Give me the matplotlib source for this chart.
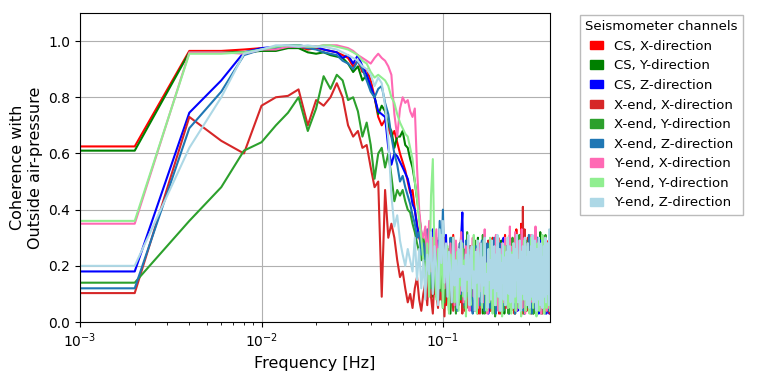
"""
Coherence between seismometer channels and outside air pressure
"""

import numpy as np
import matplotlib
matplotlib.use('Agg')
import matplotlib.pyplot as plt
from matplotlib.patches import Patch

# frequency bins (0.002 Hz spacing, first bin is DC)
n_bins = 196
df = 0.002

channel_names = ['CS, X-direction', 'CS, Y-direction', 'CS, Z-direction',
                 'X-end, X-direction', 'X-end, Y-direction', 'X-end, Z-direction',
                 'Y-end, X-direction', 'Y-end, Y-direction', 'Y-end, Z-direction']
channel_colors = ['red', 'green', 'blue',
                  'tab:red', 'tab:green', 'tab:blue',
                  'hotpink', 'lightgreen', 'lightblue']

# coherence values in percent
cs_x = [62.5, 62.5, 96.5, 96.5, 97, 97.5, 97.5, 98, 98, 97,
        97.5, 97, 96.5, 96, 95, 94, 91, 93, 89, 90,
        86, 80, 73, 70, 72, 69, 66, 68, 64, 60,
        57, 54, 50, 46, 47, 40, 35, 30, 28, 22,
        25, 18, 30, 14, 22, 10, 28, 16, 8, 24,
        12, 30, 6, 19, 26, 9, 15, 31, 11, 5,
        21, 13, 27, 7, 18, 24, 4, 16, 29, 10,
        14, 22, 6, 19, 12, 27, 8, 17, 3, 23,
        11, 26, 15, 5, 20, 9, 24, 13, 28, 7,
        18, 4, 22, 12, 30, 10, 16, 6, 25, 14,
        9, 21, 3, 17, 27, 11, 19, 5, 24, 13,
        31, 8, 15, 22, 6, 18, 10, 26, 4, 20,
        12, 29, 7, 16, 23, 9, 14, 33, 5, 19,
        11, 25, 15, 6, 21, 35, 10, 18, 3, 24,
        14, 8, 27, 12, 20, 5, 17, 30, 9, 15,
        22, 6, 13, 26, 10, 19, 4, 23, 11, 16,
        28, 7, 18, 12, 24, 3, 15, 21, 9, 27,
        13, 6, 20, 11, 25, 8, 17, 14, 4, 22,
        10, 19, 26, 7, 15, 12, 29, 5, 18, 9,
        23, 11, 16, 6, 20, 13]
cs_y = [61, 61, 96, 96, 96, 96.5, 96.5, 97.5, 97.5, 96,
        95.5, 96, 95, 94.5, 94, 92, 89, 91, 86, 88,
        83, 80, 74, 77, 75, 70, 68, 62, 66, 66,
        68, 63, 62, 58, 55, 50, 44, 38, 32, 26,
        20, 28, 12, 24, 9, 19, 30, 7, 22, 15,
        5, 18, 26, 10, 21, 3, 16, 24, 8, 28,
        13, 6, 20, 31, 9, 17, 25, 4, 19, 11,
        27, 7, 15, 22, 12, 5, 24, 16, 30, 8,
        18, 10, 25, 3, 21, 14, 7, 26, 12, 19,
        6, 23, 15, 9, 28, 4, 17, 11, 22, 8,
        26, 13, 5, 20, 10, 29, 7, 16, 24, 3,
        18, 12, 27, 6, 21, 15, 9, 30, 11, 4,
        23, 17, 8, 25, 13, 3, 20, 10, 28, 14,
        6, 19, 24, 9, 16, 31, 5, 22, 12, 18,
        27, 7, 14, 21, 4, 18, 10, 25, 15, 8,
        20, 29, 6, 13, 24, 11, 17, 3, 22, 9,
        15, 26, 8, 19, 12, 30, 5, 21, 14, 7,
        24, 10, 32, 6, 18, 13, 27, 9, 16, 4,
        21, 12, 8, 25, 15, 5, 19, 28, 10, 17,
        7, 24, 13, 20, 6, 18]
cs_z = [18, 18, 74.5, 86, 96, 97.5, 98, 98.5, 98.5, 98,
        98, 97, 96.5, 96, 94, 95, 92, 95, 91, 88,
        84, 80, 75, 74, 73, 62, 56, 60, 59, 57,
        55, 53, 51, 47, 42, 40, 34, 31, 28, 26,
        24, 30, 20, 27, 33, 22, 18, 29, 21, 12,
        26, 16, 31, 10, 24, 14, 28, 8, 20, 13,
        25, 9, 18, 30, 39, 12, 22, 6, 16, 27,
        10, 19, 4, 23, 14, 8, 21, 12, 26, 5,
        17, 28, 9, 13, 22, 6, 25, 11, 18, 3,
        20, 14, 27, 8, 16, 24, 5, 19, 12, 29,
        7, 15, 22, 10, 26, 4, 18, 13, 30, 9,
        21, 6, 16, 25, 11, 19, 3, 23, 14, 8,
        28, 12, 20, 5, 17, 26, 9, 15, 22, 4,
        18, 11, 27, 7, 24, 14, 6, 20, 10, 29,
        13, 3, 19, 25, 8, 16, 22, 5, 27, 12,
        9, 21, 15, 4, 18, 28, 11, 24, 7, 17,
        26, 10, 14, 5, 22, 19, 8, 25, 13, 3,
        20, 16, 29, 9, 12, 24, 6, 18, 11, 27,
        4, 15, 21, 8, 26, 13, 3, 19, 10, 23,
        14, 5, 18, 3, 22, 9]
xend_x = [10.3, 10.3, 73, 64.5, 60, 77, 80, 80.5, 82.8, 70,
          79, 77, 80, 85, 80, 70, 66, 68, 62, 63,
          55, 48, 50, 9, 47, 30, 35, 30, 22, 16,
          18, 12, 7, 10, 5, 12, 16, 8, 4, 10,
          14, 6, 20, 9, 3, 17, 11, 5, 22, 8,
          15, 2, 19, 10, 25, 7, 13, 4, 18, 11,
          6, 21, 9, 16, 3, 24, 12, 7, 19, 5,
          14, 27, 8, 11, 20, 4, 16, 9, 23, 13,
          3, 18, 10, 26, 6, 15, 21, 8, 12, 29,
          7, 17, 4, 22, 11, 14, 5, 25, 9, 19,
          12, 30, 6, 16, 3, 20, 10, 24, 8, 15,
          27, 5, 18, 11, 22, 4, 14, 31, 9, 17,
          6, 21, 13, 26, 3, 19, 10, 28, 7, 16,
          23, 12, 5, 20, 9, 30, 15, 6, 41, 11,
          18, 33, 8, 14, 24, 4, 20, 12, 27, 6,
          16, 9, 22, 3, 18, 28, 11, 15, 5, 24,
          13, 7, 20, 30, 10, 17, 4, 23, 14, 8,
          26, 12, 19, 6, 21, 9, 15, 3, 28, 11,
          17, 24, 5, 13, 20, 8, 27, 10, 4, 18,
          12, 22, 7, 16, 3, 14]
xend_y = [14, 14, 36, 48, 61, 64, 70, 74.5, 80, 68,
          76, 87.5, 83, 88, 86, 79, 80, 75, 66, 71,
          63, 51, 60, 62, 55, 60, 52, 43, 47, 45,
          47, 43, 40, 39, 35, 32, 28, 25, 22, 30,
          26, 18, 30, 12, 24, 16, 9, 22, 28, 11,
          19, 7, 25, 14, 4, 21, 30, 10, 17, 3,
          23, 12, 28, 8, 18, 26, 5, 15, 32, 9,
          20, 13, 6, 24, 17, 29, 10, 4, 22, 14,
          27, 8, 16, 31, 11, 3, 19, 25, 7, 21,
          13, 28, 5, 18, 10, 24, 15, 2, 20, 30,
          8, 17, 23, 11, 6, 26, 14, 20, 4, 27,
          12, 19, 9, 25, 16, 3, 29, 10, 21, 7,
          18, 30, 6, 14, 22, 11, 5, 27, 15, 9,
          24, 13, 31, 7, 19, 4, 16, 26, 10, 20,
          3, 22, 12, 17, 29, 8, 24, 14, 5, 18,
          27, 10, 15, 21, 6, 30, 12, 19, 3, 23,
          11, 25, 16, 8, 20, 14, 28, 4, 18, 22,
          9, 15, 26, 12, 3, 21, 17, 29, 7, 13,
          24, 10, 19, 6, 31, 14, 8, 22, 16, 5,
          28, 11, 20, 9, 25, 15]
xend_z = [12, 12, 69, 82, 95, 97, 97.5, 98, 98, 97.5,
          97, 96, 95.5, 95, 93, 92, 90, 93, 90, 86,
          82, 80, 83, 84, 78, 74, 66, 60, 56, 50,
          52, 48, 45, 42, 38, 35, 30, 32, 24, 28,
          22, 33, 16, 27, 11, 24, 19, 8, 36, 20,
          40, 13, 26, 9, 21, 30, 7, 18, 25, 12,
          4, 20, 28, 10, 17, 23, 6, 29, 14, 19,
          8, 25, 12, 3, 21, 16, 27, 9, 18, 24,
          6, 14, 29, 10, 20, 4, 23, 15, 28, 11,
          17, 5, 26, 13, 21, 8, 30, 12, 3, 19,
          24, 10, 16, 28, 7, 22, 14, 4, 25, 18,
          9, 27, 13, 20, 5, 23, 11, 29, 16, 6,
          21, 14, 26, 8, 19, 3, 24, 12, 30, 17,
          10, 25, 5, 18, 13, 27, 8, 21, 15, 4,
          23, 11, 28, 16, 6, 20, 9, 26, 13, 31,
          7, 18, 24, 12, 3, 22, 15, 28, 10, 19,
          5, 26, 14, 21, 9, 17, 30, 6, 23, 11,
          27, 8, 15, 20, 4, 25, 12, 18, 29, 7,
          16, 22, 10, 3, 24, 13, 28, 9, 19, 5,
          26, 14, 4, 21, 11, 17]
yend_x = [35, 35, 96, 96, 95.5, 97, 97, 98, 98, 98,
          98, 98.5, 98.5, 98.5, 98, 97.5, 96.5, 95, 94, 93,
          92, 94, 95.5, 94, 93, 91, 88, 74, 66, 76,
          80, 78, 79, 75, 73, 76, 55, 40, 32, 30,
          34, 22, 36, 18, 30, 24, 33, 15, 27, 20,
          31, 12, 26, 19, 8, 28, 16, 23, 6, 29,
          14, 25, 10, 32, 18, 7, 21, 27, 11, 17,
          4, 24, 15, 30, 9, 20, 13, 26, 5, 18,
          28, 11, 22, 7, 16, 33, 10, 19, 3, 25,
          14, 21, 8, 29, 17, 6, 24, 12, 31, 9,
          19, 4, 26, 15, 22, 10, 28, 7, 18, 13,
          30, 8, 20, 25, 5, 17, 11, 34, 14, 21,
          6, 27, 16, 9, 23, 32, 12, 4, 20, 26,
          10, 18, 29, 7, 22, 14, 33, 5, 24, 16,
          12, 30, 3, 21, 26, 9, 17, 28, 8, 15,
          23, 5, 19, 31, 11, 24, 7, 16, 27, 13,
          20, 9, 34, 4, 18, 25, 12, 22, 6, 29,
          15, 10, 24, 19, 3, 27, 13, 8, 21, 17,
          30, 6, 16, 25, 11, 20, 4, 23, 14, 28,
          9, 18, 5, 22, 12, 26]
yend_y = [36, 36, 95.5, 95.5, 96, 97, 98, 98.5, 98.5, 98,
          98, 98.5, 98.5, 98, 97.5, 97, 96, 95, 93, 92,
          89, 87, 88, 87, 86, 84, 80, 78, 74, 71,
          69, 67, 66, 62, 58, 50, 44, 36, 30, 22,
          14, 28, 9, 45, 58, 20, 8, 26, 12, 31,
          5, 21, 16, 27, 3, 24, 11, 30, 7, 18,
          25, 4, 19, 13, 28, 9, 22, 2, 17, 26,
          11, 6, 23, 15, 31, 8, 20, 3, 27, 14,
          18, 25, 5, 12, 29, 10, 21, 4, 16, 24,
          7, 30, 13, 19, 3, 26, 11, 22, 6, 17,
          28, 9, 15, 4, 24, 18, 2, 21, 12, 27,
          6, 16, 23, 10, 30, 5, 19, 13, 25, 3,
          20, 11, 28, 7, 17, 24, 4, 14, 31, 9,
          22, 5, 18, 26, 12, 2, 25, 15, 8, 21,
          29, 10, 16, 4, 23, 13, 27, 6, 19, 11,
          3, 24, 17, 30, 8, 14, 21, 5, 26, 12,
          18, 7, 25, 13, 2, 20, 28, 9, 16, 23,
          4, 19, 11, 27, 14, 6, 22, 31, 10, 17,
          25, 3, 15, 21, 8, 29, 12, 5, 24, 18,
          10, 27, 6, 20, 14, 4]
yend_z = [20, 20, 62, 80, 95.5, 97, 98.5, 98.5, 98, 98.5,
          98, 98, 97.5, 97, 96, 95, 94, 93, 91, 90,
          88, 84, 87, 85, 77, 65, 45, 34, 38, 29,
          24, 20, 26, 22, 18, 30, 15, 26, 12, 22,
          8, 24, 17, 32, 10, 27, 19, 6, 33, 21,
          36, 14, 28, 9, 25, 18, 7, 30, 13, 22,
          5, 26, 16, 29, 11, 20, 8, 24, 15, 31,
          6, 21, 27, 12, 18, 4, 25, 14, 29, 9,
          19, 28, 7, 23, 13, 30, 10, 17, 5, 26,
          15, 22, 8, 29, 12, 19, 27, 6, 24, 11,
          31, 9, 18, 26, 4, 21, 14, 28, 8, 23,
          16, 6, 25, 12, 30, 10, 20, 27, 7, 17,
          24, 13, 5, 28, 18, 9, 26, 15, 31, 11,
          7, 22, 16, 29, 4, 19, 25, 10, 27, 14,
          20, 8, 30, 12, 23, 6, 17, 28, 11, 25,
          5, 21, 15, 27, 9, 18, 31, 13, 7, 24,
          16, 29, 10, 22, 4, 26, 14, 19, 8, 30,
          12, 25, 6, 20, 28, 11, 17, 5, 23, 15,
          27, 9, 21, 13, 30, 7, 18, 24, 10, 28,
          14, 22, 6, 33, 12, 29]

coherence = [cs_x, cs_y, cs_z, xend_x, xend_y, xend_z, yend_x, yend_y, yend_z]

freqs = df * np.arange(n_bins)

fig = plt.figure(figsize=(7.63, 3.82), dpi=100)
ax = fig.add_axes([0.105, 0.157, 0.616, 0.809])

for values, color in zip(coherence, channel_colors):
    ax.plot(freqs, np.array(values) / 100.0, color=color, linewidth=1.5)

ax.set_xscale('log')
ax.set_xlim(1e-3, freqs[-1])
ax.set_ylim(0, 1.1)
ax.set_yticks([0.0, 0.2, 0.4, 0.6, 0.8, 1.0])
ax.grid(True, which='major', color='#b0b0b0', linewidth=0.8)
ax.tick_params(labelsize=10)
ax.set_xlabel('Frequency [Hz]', fontsize=11.5)
ax.set_ylabel('Coherence with\nOutside air-pressure', fontsize=11.5)

handles = [Patch(color=c, label=name) for c, name in zip(channel_colors, channel_names)]
ax.legend(handles=handles, title='Seismometer channels', loc='upper left',
          bbox_to_anchor=(1.064, 0.994), borderaxespad=0, fontsize=9.5,
          title_fontsize=9.5, fancybox=False, edgecolor='#aaaaaa',
          handlelength=1.0, handleheight=0.6)

fig.savefig('out.png', dpi=100)
